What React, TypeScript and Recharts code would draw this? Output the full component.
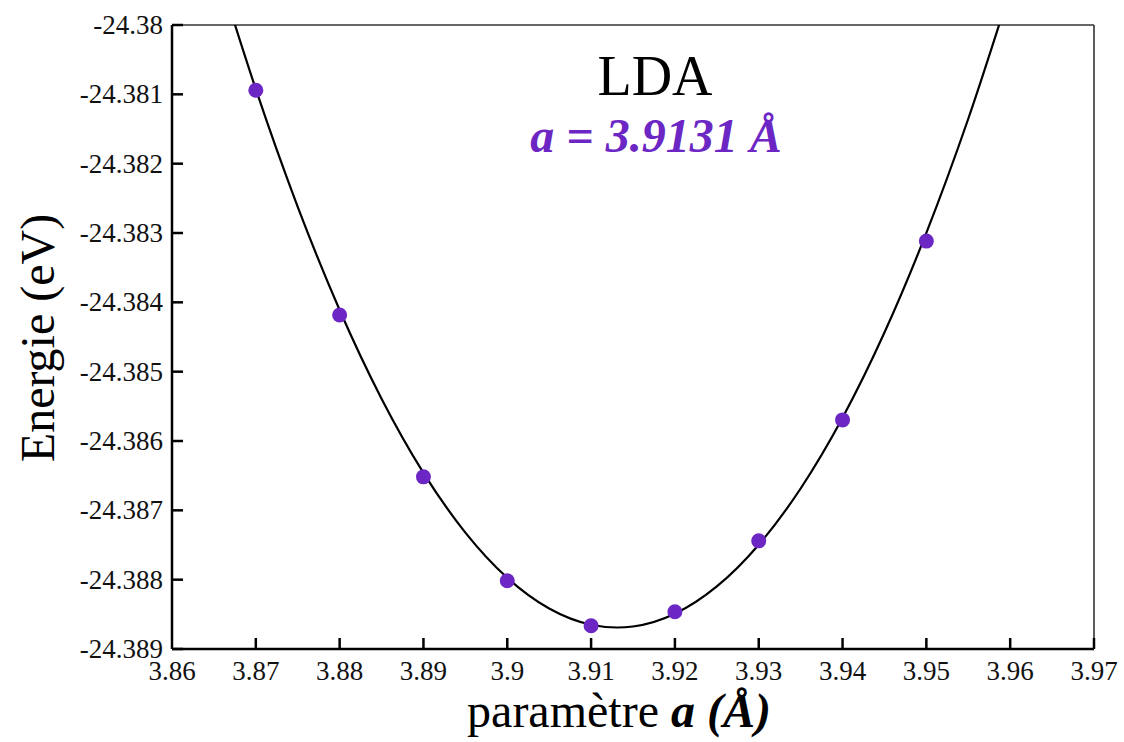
import { ComposedChart, Line, ReferenceLine, Scatter, XAxis, YAxis } from "recharts";

// mesures (points violets)
const pointA = [3.87, 3.88, 3.89, 3.9, 3.91, 3.92, 3.93, 3.94, 3.95];
const pointE = [-24.380941, -24.384183, -24.386517, -24.388016, -24.388665, -24.388463, -24.38744, -24.385696, -24.383117];

// courbe d'ajustement
const fitA = [3.866, 3.87, 3.875, 3.88, 3.885, 3.89, 3.895, 3.9, 3.905, 3.91, 3.9131, 3.915, 3.92, 3.925, 3.93, 3.935, 3.94, 3.945, 3.95, 3.955, 3.96];
const fitE = [
  -24.379417, -24.380925, -24.382622, -24.38411, -24.385389, -24.386459, -24.387321, -24.387973, -24.388416, -24.38865,
  -24.38869, -24.388675, -24.388491, -24.388098, -24.387496, -24.386685, -24.385665, -24.384436, -24.382998, -24.381352,
  -24.379496,
];

const xTicks = [3.86, 3.87, 3.88, 3.89, 3.9, 3.91, 3.92, 3.93, 3.94, 3.95, 3.96, 3.97];
const yTicks = [-24.38, -24.381, -24.382, -24.383, -24.384, -24.385, -24.386, -24.387, -24.388, -24.389];

const W = 1124;
const H = 742;
const SERIF = { fontFamily: "Liberation Serif, serif" };
const PURPLE = "#6c26c4";

const fmt = (v: number) => String(Number(v.toFixed(4)));

function YTick(props: any) {
  const { x, y, payload } = props;
  return (
    <g>
      <line x1={x + 9} x2={x + 20} y1={y} y2={y} stroke="#000" strokeWidth={2.5} />
      <text x={x} y={y + 9} textAnchor="end" style={SERIF} fontSize={27} fill="#111">
        {fmt(payload.value)}
      </text>
    </g>
  );
}

function XTick(props: any) {
  const { x, y, payload, index } = props;
  return (
    <g>
      {index > 0 ? <line x1={x} x2={x} y1={y} y2={y - 11} stroke="#000" strokeWidth={2.5} /> : null}
      <text x={x} y={y + 31} textAnchor="middle" style={SERIF} fontSize={27} fill="#111">
        {fmt(payload.value)}
      </text>
    </g>
  );
}

export default function App() {
  const fitData = fitA.map((a, i) => ({ a, e: fitE[i] }));
  const pointData = pointA.map((a, i) => ({ a, e: pointE[i] }));

  return (
    <div style={{ position: "absolute", left: 0, top: 0, width: W, height: H, background: "#fff" }}>
      <ComposedChart width={W} height={H} margin={{ top: 25, right: 30, left: 0, bottom: 0 }}>
        <XAxis
          type="number"
          dataKey="a"
          domain={[3.86, 3.97]}
          ticks={xTicks}
          allowDataOverflow
          height={93}
          tickSize={0}
          tickMargin={0}
          tick={<XTick />}
          axisLine={{ stroke: "#000", strokeWidth: 2.5 }}
          interval={0}
        />
        <YAxis
          type="number"
          dataKey="e"
          domain={[-24.389, -24.38]}
          ticks={yTicks}
          allowDataOverflow
          width={172}
          tickSize={0}
          tickMargin={9}
          tick={<YTick />}
          axisLine={{ stroke: "#000", strokeWidth: 2.5 }}
          interval={0}
        />
        <ReferenceLine y={-24.38} stroke="#333" strokeWidth={1.6} />
        <ReferenceLine x={3.97} stroke="#333" strokeWidth={1.6} />
        <Line
          data={fitData}
          dataKey="e"
          type="monotone"
          stroke="#000"
          strokeWidth={2.2}
          dot={false}
          isAnimationActive={false}
        />
        <Scatter
          data={pointData}
          dataKey="e"
          fill={PURPLE}
          isAnimationActive={false}
          shape={(p: any) => <circle cx={p.cx} cy={p.cy} r={7.5} fill={PURPLE} />}
        />
      </ComposedChart>
      <svg width={W} height={H} style={{ position: "absolute", left: 0, top: 0, pointerEvents: "none" }}>
        <text x={655} y={95} textAnchor="middle" style={SERIF} fontSize={56} fill="#000">
          LDA
        </text>
        <text x={656} y={152} textAnchor="middle" style={SERIF} fontSize={48} fontWeight="bold" fontStyle="italic" fill={PURPLE}>
          a = 3.9131 Å
        </text>
        <text x={619} y={727} textAnchor="middle" style={SERIF} fontSize={48} fill="#000">
          paramètre <tspan fontWeight="bold" fontStyle="italic">a (Å)</tspan>
        </text>
        <text x={54} y={338} textAnchor="middle" style={SERIF} fontSize={48} fill="#000" transform="rotate(-90 54 338)">
          Energie (eV)
        </text>
      </svg>
    </div>
  );
}
